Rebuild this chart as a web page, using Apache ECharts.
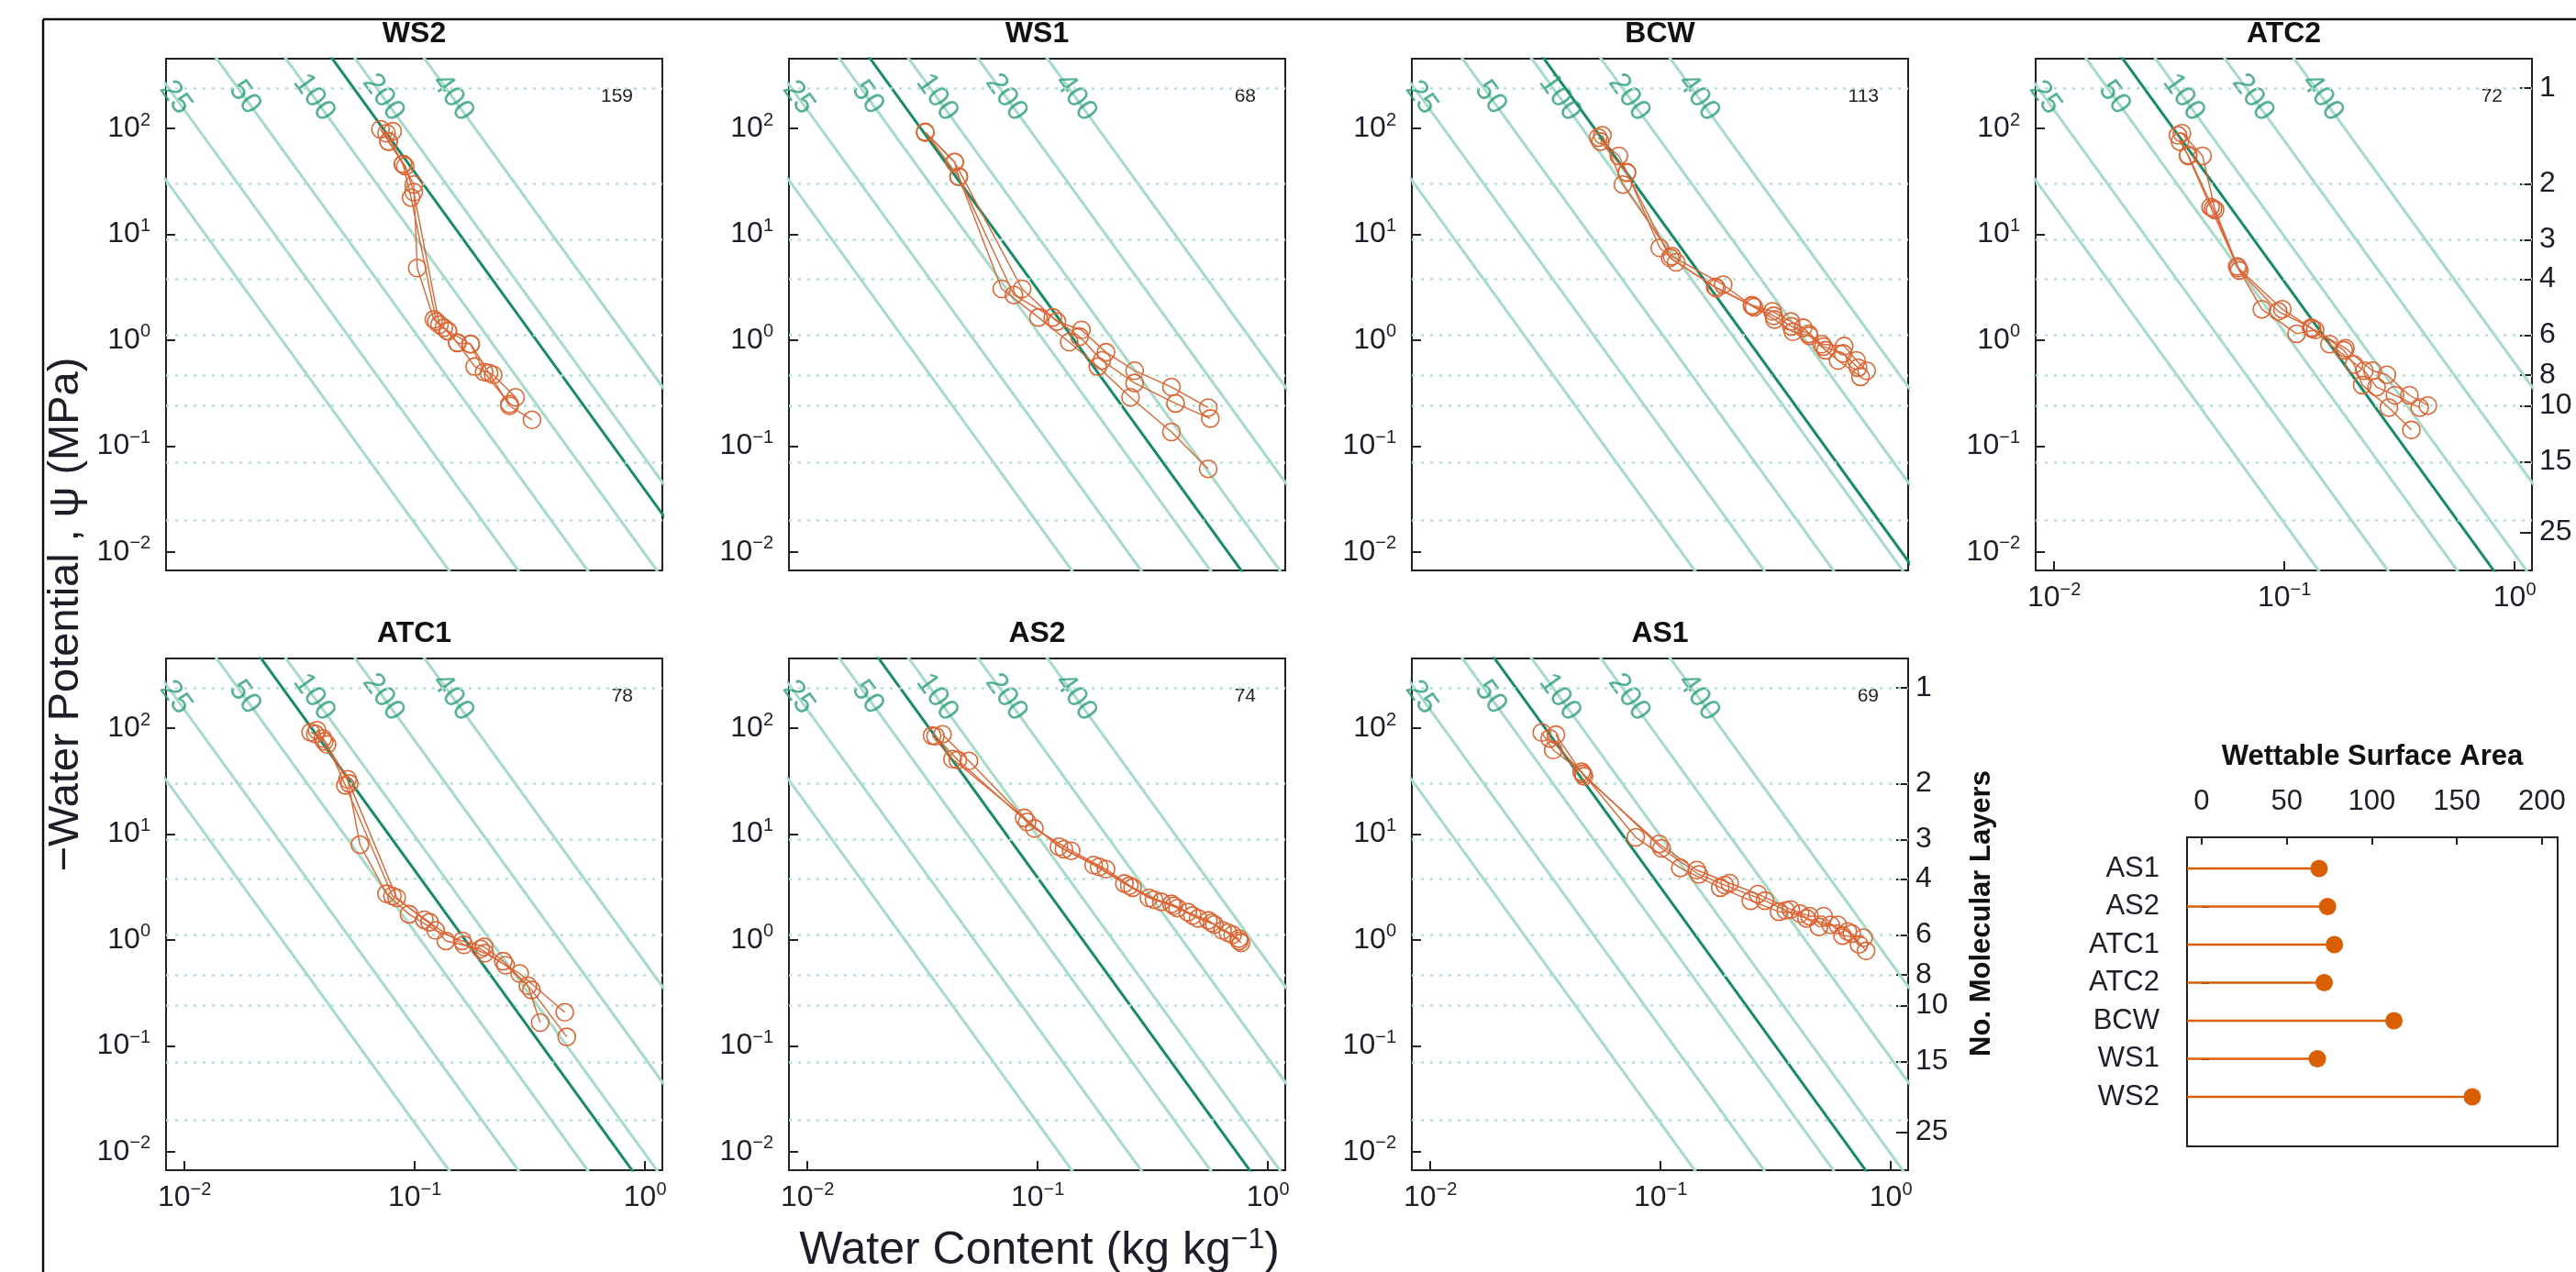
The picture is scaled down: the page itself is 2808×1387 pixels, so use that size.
<!DOCTYPE html>
<html><head><meta charset="utf-8">
<script src="https://cdn.jsdelivr.net/npm/echarts@6/dist/echarts.min.js"></script>
<style>html,body{margin:0;padding:0;background:#fff}#c{width:2808px;height:1387px}</style>
</head><body><div id="c"></div>
<script>
// ---------------- DATA ----------------
// Wettable surface area per sample (m2/g)
const categories = ['AS1', 'AS2', 'ATC1', 'ATC2', 'BCW', 'WS1', 'WS2'];
const surfaceArea = [69, 74, 78, 72, 113, 68, 159];
// reference surface-area lines drawn in every panel
const guideSA = [12.5, 25, 50, 100, 200, 400];
const guideLabels = [25, 50, 100, 200, 400];
// molecular layer ticks (right axis)
const layerTicks = [1, 2, 3, 4, 6, 8, 10, 15, 25];
const xTicks = [0.01, 0.1, 1];
const yTicks = [0.01, 0.1, 1, 10, 100];
const lolliTicks = [0, 50, 100, 150, 200];
// model constants: psi = A_LAYER / n^3 , n = theta / (K_MONO * S)
const A_LAYER = 240;
const K_MONO = 3.414e-4;

// water content (kg/kg), -water potential (MPa) replicates
const WS2_r1 = [[0.071,98],[0.077,75],[0.089,46],[0.099,29.5],[0.1025,4.8],[0.121,1.57],[0.139,1.22],[0.153,0.94],[0.175,0.92],[0.21,0.49],[0.258,0.24],[0.323,0.177]];
const WS2_r2 = [[0.0754,90],[0.0888,46],[0.0964,22.2],[0.124,1.5],[0.1337,1.31],[0.153,0.95],[0.182,0.564],[0.219,0.471],[0.274,0.289]];
const WS2_r3 = [[0.0802,94],[0.0769,75.2],[0.091,44],[0.099,25],[0.128,1.4],[0.1394,1.22],[0.1746,0.918],[0.2,0.5],[0.258,0.25]];

const WS1_r1 = [[0.0325,92],[0.0436,48],[0.0454,35],[0.0698,3.05],[0.1008,1.64],[0.137,0.96],[0.1825,0.564],[0.253,0.289],[0.381,0.136],[0.55,0.061]];
const WS1_r2 = [[0.0325,92],[0.0454,35],[0.0789,2.67],[0.1163,1.64],[0.152,1.08],[0.19,0.644],[0.2636,0.394],[0.397,0.253],[0.562,0.182]];
const WS1_r3 = [[0.0325,92],[0.0436,48],[0.0856,3.05],[0.1212,1.5],[0.155,1.25],[0.198,0.769],[0.2636,0.515],[0.381,0.361],[0.55,0.231]];

const BCW_r1 = [[0.0536,82],[0.0659,55],[0.0714,38.6],[0.0992,7.44],[0.1169,5.44],[0.1725,3.19],[0.2494,2.14],[0.306,1.87],[0.368,1.5],[0.416,1.31],[0.5,0.918],[0.627,0.879],[0.709,0.644],[0.785,0.515]];
const BCW_r2 = [[0.0559,86],[0.0686,29.5],[0.112,6.22],[0.187,3.34],[0.2546,2.05],[0.3125,1.567],[0.3755,1.2],[0.4426,1.1],[0.521,0.804],[0.5896,0.644],[0.738,0.451]];
const BCW_r3 = [[0.0548,75],[0.0714,38],[0.11,6],[0.175,3.1],[0.25,2.1],[0.31,1.7],[0.37,1.35],[0.44,1.15],[0.51,0.87],[0.62,0.75],[0.72,0.55]];

const ATC2_r1 = [[0.0345,86],[0.0382,55],[0.0478,18.1],[0.0624,4.98],[0.0798,1.96],[0.113,1.15],[0.136,1.25],[0.181,0.804],[0.2007,0.589],[0.2178,0.377],[0.2843,0.231],[0.356,0.142]];
const ATC2_r2 = [[0.0359,90],[0.0441,55],[0.05,17],[0.0637,4.56],[0.094,1.87],[0.1306,1.31],[0.157,0.919],[0.2223,0.515],[0.2513,0.361],[0.302,0.302],[0.3866,0.231]];
const ATC2_r3 = [[0.0352,75],[0.0382,56],[0.049,17.5],[0.063,4.8],[0.098,1.96],[0.132,1.28],[0.184,0.84],[0.2413,0.515],[0.2786,0.471],[0.349,0.302],[0.4197,0.2415]];

const ATC1_r1 = [[0.0353,91.5],[0.0399,80],[0.0511,32.9],[0.0578,7.94],[0.0754,2.73],[0.0944,1.75],[0.1232,1.23],[0.1608,0.98],[0.2,0.86],[0.2423,0.63],[0.31,0.37],[0.3503,0.166]];
const ATC1_r2 = [[0.0376,95.6],[0.0416,70.1],[0.05,28.8],[0.08,2.6],[0.1159,1.47],[0.1365,0.98],[0.1934,0.822],[0.248,0.577],[0.3211,0.338],[0.457,0.1216]];
const ATC1_r3 = [[0.037,88],[0.0405,75],[0.052,30],[0.0835,2.5],[0.11,1.55],[0.1636,0.9],[0.2014,0.752],[0.2854,0.4825],[0.448,0.2075]];

const AS2_r1 = [[0.0348,85],[0.0427,51],[0.0874,14.2],[0.1237,7.6],[0.1751,5.1],[0.238,3.41],[0.304,2.5],[0.381,2.19],[0.449,1.83],[0.5505,1.53],[0.635,1.23],[0.748,1.03]];
const AS2_r2 = [[0.0386,87.5],[0.0503,49],[0.0968,11.3],[0.1398,6.95],[0.198,4.66],[0.2583,3.12],[0.344,2.29],[0.405,2.0],[0.497,1.6],[0.585,1.4],[0.703,1.12],[0.764,0.94]];
const AS2_r3 = [[0.036,84],[0.045,50],[0.09,13],[0.13,7.2],[0.185,4.9],[0.25,3.25],[0.32,2.4],[0.39,2.1],[0.47,1.7],[0.57,1.45],[0.67,1.17],[0.75,0.98]];

const AS1_r1 = [[0.0305,90.9],[0.0342,62.2],[0.0454,38.7],[0.078,9.31],[0.1218,4.79],[0.1817,3.12],[0.2465,2.35],[0.3267,1.85],[0.4037,1.77],[0.4873,1.33],[0.588,1.39],[0.677,1.15],[0.78,0.789]];
const AS1_r2 = [[0.0351,86.7],[0.0465,35.2],[0.0986,8.07],[0.1436,4.57],[0.1995,3.44],[0.2645,2.71],[0.3675,1.94],[0.4436,1.68],[0.5105,1.68],[0.6166,1.1],[0.7613,1.05]];
const AS1_r3 = [[0.033,80],[0.046,37],[0.101,7.34],[0.1466,4.16],[0.19,3.3],[0.284,2.35],[0.35,1.9],[0.43,1.6],[0.548,1.39],[0.65,1.2],[0.727,0.91]];

// ---------------- LAYOUT / STYLE ----------------
const FONT = '"Liberation Sans", Arial, Helvetica, sans-serif';
const TXT = '#1e1e28';
const DARKG = '#178a66', LIGHTG = '#a6dbc6', LABG = '#2a9e7c', DOTG = '#b3e2cf';
const ORANGE = '#dc6534', LOLLI = '#d95f02';
const LOG_XMIN = -2.08, LOG_XMAX = 0.075, LOG_YMIN = -2.174, LOG_YMAX = 2.658;
const PW = 541, PH = 558;
const colLeft = [181, 860, 1539, 2219], rowTop = [64, 718];
const panels = [
  {name:'WS2', col:0, row:0, reps:[WS2_r1, WS2_r2, WS2_r3], showX:false, right:false},
  {name:'WS1', col:1, row:0, reps:[WS1_r1, WS1_r2, WS1_r3], showX:false, right:false},
  {name:'BCW', col:2, row:0, reps:[BCW_r1, BCW_r2, BCW_r3], showX:false, right:false},
  {name:'ATC2', col:3, row:0, reps:[ATC2_r1, ATC2_r2, ATC2_r3], showX:true, right:true},
  {name:'ATC1', col:0, row:1, reps:[ATC1_r1, ATC1_r2, ATC1_r3], showX:true, right:false},
  {name:'AS2', col:1, row:1, reps:[AS2_r1, AS2_r2, AS2_r3], showX:true, right:false},
  {name:'AS1', col:2, row:1, reps:[AS1_r1, AS1_r2, AS1_r3], showX:true, right:true}
];

function psiLine(S, theta) { return A_LAYER * Math.pow(K_MONO * S / theta, 3); }
function thetaAt(S, psi) { return K_MONO * S * Math.pow(A_LAYER / psi, 1 / 3); }
const layerPsi = layerTicks.map(n => A_LAYER / Math.pow(n, 3));

function powFmt(v) {
  const e = Math.round(Math.log10(v));
  const es = e < 0 ? '\u2212' + (-e) : String(e);
  return '{b|10}{s|' + es + '}';
}
const powRich = {
  b: {fontSize: 32, fontFamily: FONT, color: TXT, lineHeight: 38},
  s: {fontSize: 20, fontFamily: FONT, color: TXT, lineHeight: 21, verticalAlign: 'top'}
};

const grids = [], xAxes = [], yAxes = [], series = [], graphics = [];
const rightAxes = [];

panels.forEach((p, i) => {
  const left = colLeft[p.col], top = rowTop[p.row];
  const sa = surfaceArea[categories.indexOf(p.name)];
  grids.push({left: left, top: top, width: PW, height: PH, show: true,
    borderColor: '#222', borderWidth: 2, backgroundColor: 'rgba(0,0,0,0)'});
  xAxes.push({type: 'log', logBase: 10, gridIndex: i,
    min: Math.pow(10, LOG_XMIN), max: Math.pow(10, LOG_XMAX),
    axisLine: {show: false}, splitLine: {show: false}, minorTick: {show: false},
    axisTick: {show: p.showX, inside: true, length: 10, customValues: xTicks, lineStyle: {color: '#222', width: 2}},
    axisLabel: {show: p.showX, customValues: xTicks, margin: 11, formatter: powFmt, rich: powRich}
  });
  yAxes.push({type: 'log', logBase: 10, gridIndex: i,
    min: Math.pow(10, LOG_YMIN), max: Math.pow(10, LOG_YMAX),
    axisLine: {show: false}, splitLine: {show: false}, minorTick: {show: false},
    axisTick: {show: true, inside: true, length: 10, customValues: yTicks, lineStyle: {color: '#222', width: 2}},
    axisLabel: {show: true, customValues: yTicks, margin: 17, formatter: powFmt, rich: powRich}
  });
  if (p.right) rightAxes.push({type: 'log', logBase: 10, gridIndex: i, position: 'right',
    min: Math.pow(10, LOG_YMIN), max: Math.pow(10, LOG_YMAX),
    axisLine: {show: false}, splitLine: {show: false}, minorTick: {show: false},
    axisTick: {show: true, inside: true, length: 13, customValues: layerPsi, lineStyle: {color: '#222', width: 2}},
    axisLabel: {show: true, customValues: layerPsi, margin: 8, fontSize: 32, fontFamily: FONT, color: TXT,
      formatter: v => String(Math.round(Math.cbrt(A_LAYER / v)))}
  });

  const ta = Math.pow(10, -2.7), tb = Math.pow(10, 0.7);
  guideSA.forEach((S, k) => {
    const s = {type: 'line', xAxisIndex: i, yAxisIndex: i, silent: true, symbol: 'none', clip: true, z: 1,
      data: [[ta, psiLine(S, ta)], [tb, psiLine(S, tb)]],
      lineStyle: {color: LIGHTG, width: 3}};
    if (k === 0) s.markLine = {silent: true, symbol: ['none', 'none'], label: {show: false},
      lineStyle: {color: DOTG, type: [3, 7], width: 2.5}, animation: false,
      data: layerPsi.map(v => ({yAxis: v}))};
    series.push(s);
  });
  series.push({type: 'line', xAxisIndex: i, yAxisIndex: i, silent: true, symbol: 'none', clip: true, z: 2,
    data: [[ta, psiLine(sa, ta)], [tb, psiLine(sa, tb)]],
    lineStyle: {color: DARKG, width: 3}});
  const psiLab = 195;
  series.push({type: 'scatter', xAxisIndex: i, yAxisIndex: i, silent: true, symbolSize: 1, z: 3,
    itemStyle: {color: 'rgba(0,0,0,0)'},
    data: guideLabels.map(S => [thetaAt(S, psiLab), psiLab, S]),
    label: {show: true, position: 'inside', rotate: -54, fontSize: 33, fontFamily: FONT, color: LABG,
      formatter: q => String(q.value[2])}});
  p.reps.forEach(r => series.push({type: 'line', xAxisIndex: i, yAxisIndex: i, clip: true, z: 5,
    data: r, symbol: 'circle', symbolSize: 19,
    itemStyle: {color: 'rgba(0,0,0,0)', borderColor: ORANGE, borderWidth: 1.6},
    lineStyle: {color: ORANGE, width: 1.4}}));

  graphics.push({type: 'text', x: left + PW / 2, y: top - 27, style: {text: p.name,
    font: 'bold 32px ' + FONT, fill: '#111', align: 'center', verticalAlign: 'middle',
    textAlign: 'center', textVerticalAlign: 'middle'}});
  graphics.push({type: 'text', x: left + PW - 32, y: top + 41, style: {text: String(sa),
    font: '21px ' + FONT, fill: '#222', align: 'right', verticalAlign: 'middle',
    textAlign: 'right', textVerticalAlign: 'middle'}});
});

// lollipop panel
const LG = 7;
const LOLLI_XMIN = -8.6, LOLLI_XMAX = 209.2;
grids.push({left: 2384, top: 913, width: 404, height: 337, show: true, borderColor: '#222', borderWidth: 2,
  backgroundColor: 'rgba(0,0,0,0)'});
xAxes.push({type: 'value', gridIndex: LG, position: 'top', min: LOLLI_XMIN, max: LOLLI_XMAX,
  axisLine: {show: false}, splitLine: {show: false},
  axisTick: {show: true, inside: true, length: 8, customValues: lolliTicks, lineStyle: {color: '#222', width: 2}},
  axisLabel: {show: true, customValues: lolliTicks, margin: 23, fontSize: 31, fontFamily: FONT, color: TXT}});
yAxes.push({type: 'value', gridIndex: LG, inverse: true, min: 0.18, max: 8.3,
  axisLine: {show: false}, splitLine: {show: false},
  axisTick: {show: true, inside: true, length: 8, customValues: [1,2,3,4,5,6,7], lineStyle: {color: '#222', width: 2}},
  axisLabel: {show: true, customValues: [1,2,3,4,5,6,7], margin: 30, fontSize: 31, fontFamily: FONT, color: TXT,
    formatter: v => categories[Math.round(v) - 1]}});
series.push({type: 'custom', xAxisIndex: LG, yAxisIndex: LG, z: 5,
  data: categories.map((c, k) => [surfaceArea[k], k + 1]),
  encode: {x: 0, y: 1},
  renderItem: (params, api) => {
    const v = api.value(0), y = api.value(1);
    const p0 = api.coord([LOLLI_XMIN, y]), p1 = api.coord([v, y]);
    return {type: 'group', children: [
      {type: 'line', shape: {x1: p0[0], y1: p0[1], x2: p1[0], y2: p1[1]}, style: {stroke: LOLLI, lineWidth: 2.6}},
      {type: 'circle', shape: {cx: p1[0], cy: p1[1], r: 9.5}, style: {fill: LOLLI}}
    ]};
  }});

rightAxes.forEach(a => yAxes.push(a));
rightAxes.forEach((a, k) => {
  series.push({type: 'line', xAxisIndex: a.gridIndex, yAxisIndex: 8 + k, data: [], silent: true});
});

// decorations & titles
graphics.push({type: 'line', shape: {x1: 47, y1: 21, x2: 2808, y2: 21}, style: {stroke: '#111', lineWidth: 2.5}});
graphics.push({type: 'line', shape: {x1: 47, y1: 21, x2: 47, y2: 1387}, style: {stroke: '#111', lineWidth: 2.5}});
graphics.push({type: 'text', x: 72, y: 670, rotation: Math.PI / 2, style: {
  text: '\u2212Water Potential , \u03C8 (MPa)', font: '47px ' + FONT, fill: TXT,
  align: 'center', verticalAlign: 'middle', textAlign: 'center', textVerticalAlign: 'middle'}});
graphics.push({type: 'text', x: 1133, y: 1364, style: {
  text: '{a|Water Content (kg kg}{s|\u22121}{a|)}', fill: TXT,
  rich: {a: {fontSize: 50, fontFamily: FONT, color: TXT, lineHeight: 56},
         s: {fontSize: 32, fontFamily: FONT, color: TXT, lineHeight: 30, verticalAlign: 'top'}},
  align: 'center', verticalAlign: 'middle', textAlign: 'center', textVerticalAlign: 'middle'}});
graphics.push({type: 'text', x: 2160, y: 996, rotation: Math.PI / 2, style: {
  text: 'No. Molecular Layers', font: 'bold 31px ' + FONT, fill: '#111',
  align: 'center', verticalAlign: 'middle', textAlign: 'center', textVerticalAlign: 'middle'}});
graphics.push({type: 'text', x: 2586, y: 825, style: {
  text: 'Wettable Surface Area', font: 'bold 31px ' + FONT, fill: '#111',
  align: 'center', verticalAlign: 'middle', textAlign: 'center', textVerticalAlign: 'middle'}});

const chart = echarts.init(document.getElementById('c'), null, {renderer: 'canvas'});
chart.setOption({
  backgroundColor: '#ffffff',
  animation: false,
  grid: grids.map(g => Object.assign({containLabel: false, outerBoundsMode: 'none'}, g)),
  xAxis: xAxes, yAxis: yAxes, series: series,
  graphic: {elements: graphics}
});
</script></body></html>
